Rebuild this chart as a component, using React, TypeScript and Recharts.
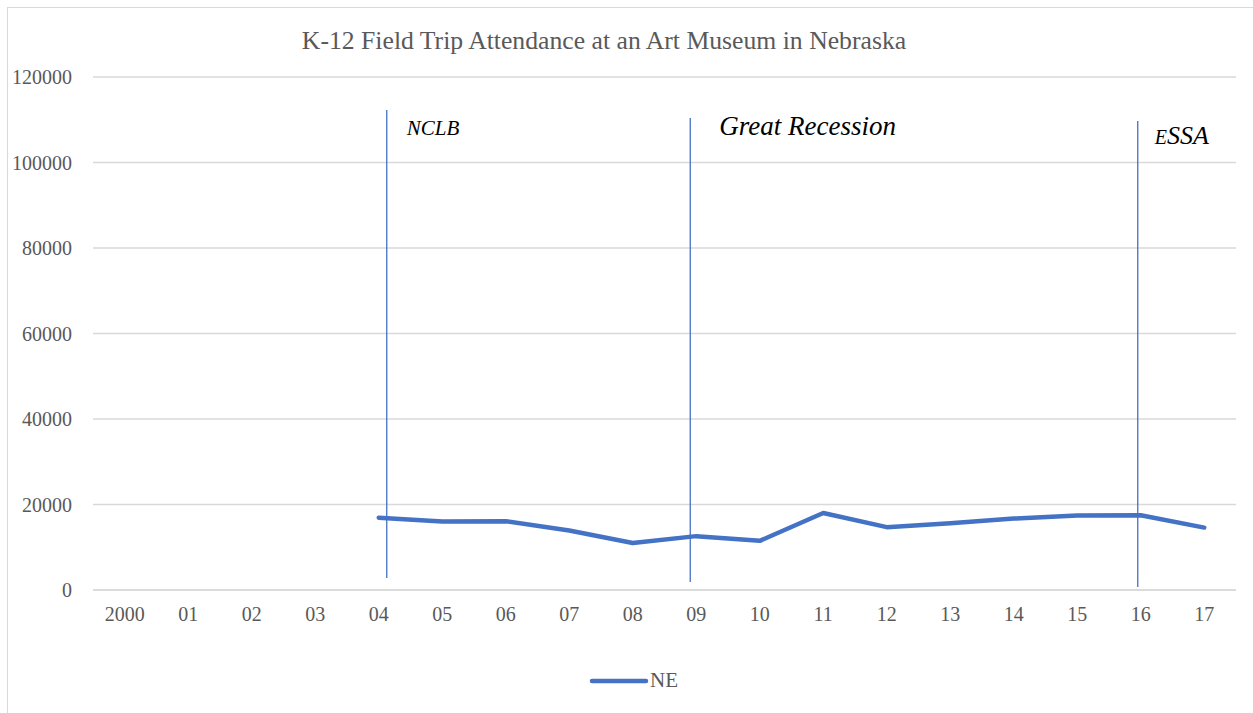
import React from 'react';
import { LineChart, Line, XAxis, YAxis, CartesianGrid, ReferenceLine, Legend } from 'recharts';

const years = ['2000', '01', '02', '03', '04', '05', '06', '07', '08', '09', '10', '11', '12', '13', '14', '15', '16', '17'];
const neValues = [null, null, null, null, 16900, 16000, 16100, 13900, 11000, 12600, 11500, 18000, 14700, 15600, 16700, 17400, 17500, 14600];
const yTicks = [0, 20000, 40000, 60000, 80000, 100000, 120000];

const eventYears = ['04', '09', '16'];
const eventLabels = ['NCLB', 'Great Recession', 'ESSA'];
const eventTops = [112300, 110400, 109700];
const eventBottoms = [2800, 1900, 700];

// styling for annotation placement (pixel offsets)
const eventStyles = [
  { dx: 8, tdx: 20, ty: 127, size: 21 },
  { dx: -6, tdx: 29, ty: 127, size: 27 },
  { dx: -3, tdx: 17, ty: 136, size: 26 },
];

const data = years.map((y, i) => ({ year: y, NE: neValues[i] }));

const FONT = '"Liberation Serif", "Times New Roman", serif';
const BLUE = '#4472C4';
const GRID = '#d9d9d9';
const TEXT = '#595959';

const makeShape = (i: number) => (p: any) => {
  const s = eventStyles[i];
  const x = p.x1 + s.dx;
  const label = eventLabels[i];
  return (
    <g>
      <line x1={x} y1={p.y1} x2={x} y2={p.y2} stroke={BLUE} strokeWidth={1.3} />
      {label === 'ESSA' ? (
        <text x={x + s.tdx} y={s.ty} fontFamily={FONT} fontStyle="italic" fill="#000">
          <tspan fontSize={20}>E</tspan>
          <tspan fontSize={s.size}>SSA</tspan>
        </text>
      ) : (
        <text x={x + s.tdx} y={s.ty} fontFamily={FONT} fontStyle="italic" fontSize={s.size} fill="#000">
          {label}
        </text>
      )}
    </g>
  );
};

const LegendContent = () => (
  <div style={{ display: 'flex', justifyContent: 'center', alignItems: 'center', fontFamily: FONT, fontSize: 21, color: TEXT, paddingLeft: 6 }}>
    <svg width={60} height={10} style={{ marginRight: 1 }}>
      <line x1={3} y1={5} x2={57} y2={5} stroke={BLUE} strokeWidth={4.5} strokeLinecap="round" />
    </svg>
    <span>NE</span>
  </div>
);

export default function App() {
  return (
    <div style={{ position: 'absolute', left: 7, top: 7, width: 1260, height: 720, border: `1px solid ${GRID}`, background: '#fff' }}>
      <LineChart width={1245} height={705} data={data} margin={{ top: 69, right: 17, bottom: 68, left: 0 }}>
        <text x={596} y={41} textAnchor="middle" fontFamily={FONT} fontSize={25.7} fill={TEXT}>
          K-12 Field Trip Attendance at an Art Museum in Nebraska
        </text>
        <CartesianGrid vertical={false} stroke={GRID} strokeWidth={1.5} />
        <XAxis
          dataKey="year"
          scale="band"
          tickLine={false}
          axisLine={{ stroke: GRID, strokeWidth: 1.5 }}
          tick={{ fontFamily: FONT, fontSize: 20, fill: TEXT }}
          tickMargin={11}
          interval={0}
        />
        <YAxis
          width={85}
          domain={[0, 120000]}
          ticks={yTicks}
          tickLine={false}
          axisLine={false}
          tick={{ fontFamily: FONT, fontSize: 20, fill: TEXT }}
          tickMargin={15}
        />
        {eventYears.map((ey, i) => (
          <ReferenceLine
            key={ey}
            segment={[{ x: ey, y: eventBottoms[i] }, { x: ey, y: eventTops[i] }]}
            shape={makeShape(i)}
          />
        ))}
        <Line
          type="linear"
          dataKey="NE"
          stroke={BLUE}
          strokeWidth={4.5}
          strokeLinejoin="round"
          strokeLinecap="round"
          dot={false}
          isAnimationActive={false}
          connectNulls={false}
        />
        <Legend
          layout="vertical"
          align="center"
          verticalAlign="bottom"
          content={<LegendContent />}
          wrapperStyle={{ position: 'absolute', top: 660, bottom: 'auto', left: 0, width: 1245 }}
        />
      </LineChart>
    </div>
  );
}
